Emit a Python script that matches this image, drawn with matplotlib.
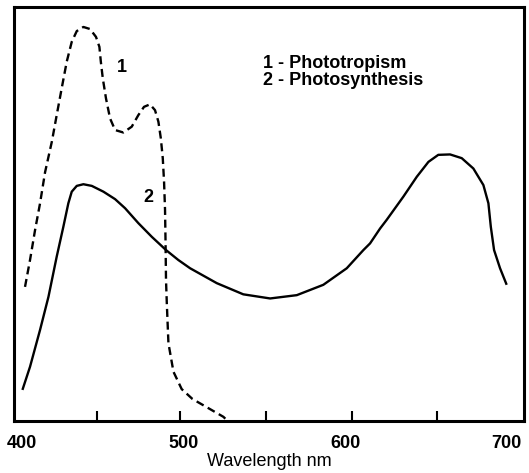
import matplotlib
matplotlib.use("Agg")
import matplotlib.pyplot as plt

plt.rcParams['font.family'] = ['Liberation Sans', 'DejaVu Sans']
plt.rcParams['font.weight'] = 'bold'

# curve 1 - phototropism (dashed), wavelength nm / relative response
photo_wl = [402.0, 405.1, 408.2, 411.3, 414.4, 418.6, 421.6, 424.7, 427.8, 430.9,
            434.0, 438.1, 442.2, 445.9, 448.0, 448.9, 450.1, 452.1, 454.6, 457.7,
            462.8, 468.0, 472.1, 475.6, 479.3, 482.4, 484.5, 486.0, 487.2, 488.0,
            488.6, 488.9, 489.2, 489.7, 490.7, 493.8, 498.9, 505.6, 515.4, 524.7,
            526.8]
photo_val = [32.4, 38.9, 46.1, 52.6, 60.1, 67.5, 73.9, 80.4, 86.8, 91.6,
             94.2, 95.2, 94.7, 92.8, 90.4, 86.8, 82.8, 77.9, 73.1, 70.3,
             69.7, 71.1, 73.9, 75.9, 76.5, 75.1, 72.3, 68.3, 63.5, 57.8,
             51.0, 43.7, 34.1, 28.4, 18.8, 11.9, 7.7, 5.3, 3.1, 1.0,
             0.2]

# curve 2 - photosynthesis (solid)
synth_wl = [400.4, 405.1, 411.3, 416.5, 421.6, 425.7, 428.8, 430.9, 434.0, 438.1,
            443.3, 450.5, 457.7, 463.9, 472.1, 480.4, 489.2, 496.8, 504.1, 520.6,
            537.0, 553.6, 570.1, 586.5, 601.0, 611.3, 615.4, 621.6, 625.7, 636.0,
            644.3, 651.5, 657.6, 664.9, 672.1, 679.3, 685.5, 688.6, 690.1, 692.1,
            695.8, 699.9]
synth_val = [7.5, 13.1, 22.0, 30.0, 39.7, 46.9, 52.6, 55.4, 56.8, 57.2,
             56.8, 55.4, 53.6, 51.4, 47.8, 44.5, 41.3, 38.9, 36.9, 33.3,
             30.6, 29.6, 30.4, 32.9, 36.9, 41.3, 42.9, 46.5, 48.6, 54.2,
             59.0, 62.6, 64.3, 64.4, 63.5, 61.0, 57.0, 52.6, 46.9, 41.3,
             36.9, 32.9]

tick_labels = [400, 500, 600, 700]
inner_ticks = [446.6, 497.9, 551.1, 604.3, 656.9]

fig = plt.figure(figsize=(5.29, 4.73), dpi=100)
ax = fig.add_axes([0.0265, 0.110, 0.964, 0.875])

ax.plot(photo_wl, photo_val, color='black', lw=1.7, linestyle=(0, (3.4, 2.0)),
        dash_capstyle='butt', dash_joinstyle='round')
ax.plot(synth_wl, synth_val, color='black', lw=1.7,
        solid_joinstyle='round', solid_capstyle='butt')

ax.text(462.1, 85.5, '1', fontsize=13, ha='center', va='center')
ax.text(478.1, 53.9, '2', fontsize=13, ha='center', va='center')
ax.text(549.3, 86.3, '1 - Phototropism', fontsize=13, ha='left', va='center')
ax.text(549.3, 82.3, '2 - Photosynthesis', fontsize=13, ha='left', va='center')

ax.set_xlim(395.2, 710.6)
ax.set_ylim(0, 100)
ax.set_xticks(tick_labels)
ax.set_xticklabels([str(t) for t in tick_labels], fontsize=13)
ax.tick_params(axis='x', which='major', length=0, pad=10)
ax.set_xticks(inner_ticks, minor=True)
ax.tick_params(axis='x', which='minor', direction='in', length=7, width=1.5)
ax.set_yticks([])
ax.set_xlabel('Wavelength nm', fontsize=13, labelpad=1)
for s in ax.spines.values():
    s.set_linewidth(2.2)

plt.savefig('out.png', dpi=100)
